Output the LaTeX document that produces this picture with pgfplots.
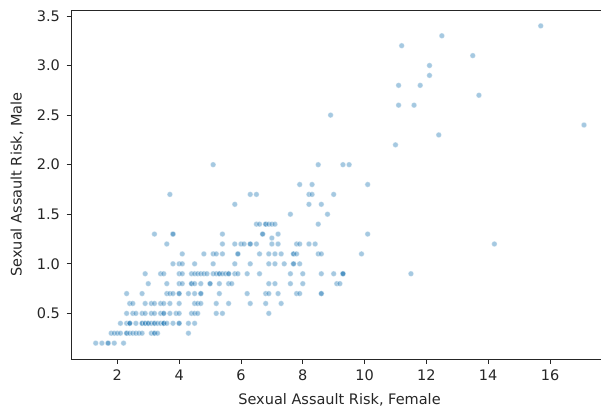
\documentclass[border=0pt]{standalone}
\usepackage{fontspec}
\setmainfont{DejaVu Sans}
\usepackage{pgfplots}
\pgfplotsset{compat=1.18}
\definecolor{mplblue}{HTML}{1F77B4}
\definecolor{spine}{HTML}{262626}

\begin{document}
\begin{tikzpicture}
\begin{axis}[
  at={(0,0)}, anchor=south west,
  width=530pt, height=349pt, scale only axis,
  font=\fontsize{14.5}{17}\selectfont,
  xmin=0.5, xmax=17.65, ymin=0.04, ymax=3.56,
  axis x line*=bottom, axis y line*=left,
  axis line style={draw=spine, line width=0.8pt},
  tick style={draw=spine, line width=0.8pt},
  tick align=outside, major tick length=4.5pt,
  xtick={2,4,6,8,10,12,14,16},
  ytick={0.5,1.0,1.5,2.0,2.5,3.0,3.5},
  /pgf/number format/assume math mode=true,
  yticklabel style={xshift=-3pt, /pgf/number format/fixed, /pgf/number format/fixed zerofill, /pgf/number format/precision=1},
  tick label style={text=spine},
  xticklabel style={yshift=-3pt},
  xlabel={Sexual Assault Risk, Female},
  ylabel={Sexual Assault Risk, Male},
  label style={font=\fontsize{15.8}{18}\selectfont},
  every axis x label/.style={at={(rel axis cs:0.5066,0)}, anchor=base, yshift=-45pt, text=spine},
  every axis y label/.style={at={(rel axis cs:0,0.5)}, xshift=-54pt, rotate=90, anchor=center, text=spine},
]
\addplot[only marks, mark=*, mark size=2.8pt,
  mark options={fill=mplblue, draw=white, line width=0.7pt, opacity=0.4}]
  coordinates {
  % y = 0.2
  (1.3,0.2) (1.5,0.2) (1.7,0.2) (1.7,0.2) (1.9,0.2) (2.2,0.2)
  % y = 0.3
  (1.8,0.3) (1.9,0.3) (2.0,0.3) (2.1,0.3) (2.3,0.3) (2.3,0.3) (2.4,0.3) (2.5,0.3) (2.6,0.3) (2.7,0.3)
  (2.8,0.3) (3.1,0.3) (3.2,0.3) (3.2,0.3) (3.3,0.3) (4.3,0.3)
  % y = 0.4
  (2.1,0.4) (2.3,0.4) (2.4,0.4) (2.4,0.4) (2.4,0.4) (2.6,0.4) (2.8,0.4) (2.8,0.4) (2.9,0.4) (2.9,0.4)
  (3.0,0.4) (3.0,0.4) (3.1,0.4) (3.2,0.4) (3.2,0.4) (3.3,0.4) (3.4,0.4) (3.5,0.4) (3.5,0.4) (3.5,0.4)
  (3.6,0.4) (3.8,0.4) (4.0,0.4) (4.0,0.4) (4.3,0.4) (4.5,0.4)
  % y = 0.5
  (2.3,0.5) (2.5,0.5) (2.6,0.5) (2.8,0.5) (2.9,0.5) (3.1,0.5) (3.2,0.5) (3.4,0.5) (3.5,0.5) (3.5,0.5)
  (3.7,0.5) (3.9,0.5) (4.0,0.5) (4.4,0.5) (4.5,0.5) (4.6,0.5) (5.2,0.5) (5.4,0.5) (6.9,0.5)
  % y = 0.6
  (2.4,0.6) (2.5,0.6) (2.9,0.6) (3.1,0.6) (3.2,0.6) (3.4,0.6) (3.5,0.6) (3.7,0.6) (4.0,0.6) (4.5,0.6)
  (4.6,0.6) (4.7,0.6) (5.2,0.6) (5.6,0.6) (6.3,0.6) (6.8,0.6) (7.3,0.6)
  % y = 0.7
  (2.3,0.7) (2.8,0.7) (3.6,0.7) (3.7,0.7) (3.8,0.7) (4.0,0.7) (4.0,0.7) (4.3,0.7) (4.5,0.7) (4.7,0.7)
  (4.7,0.7) (5.3,0.7) (6.2,0.7) (6.8,0.7) (6.9,0.7) (7.2,0.7) (7.8,0.7) (7.9,0.7) (8.6,0.7) (8.6,0.7)
  % y = 0.8
  (3.0,0.8) (3.6,0.8) (4.0,0.8) (4.1,0.8) (4.4,0.8) (4.4,0.8) (4.5,0.8) (4.7,0.8) (5.0,0.8) (5.0,0.8)
  (5.3,0.8) (5.6,0.8) (5.7,0.8) (6.9,0.8) (7.1,0.8) (7.6,0.8) (8.0,0.8) (9.1,0.8) (9.2,0.8)
  % y = 0.9
  (2.9,0.9) (3.4,0.9) (3.5,0.9) (4.0,0.9) (4.1,0.9) (4.4,0.9) (4.5,0.9) (4.6,0.9) (4.7,0.9) (4.8,0.9)
  (4.9,0.9) (5.1,0.9) (5.2,0.9) (5.3,0.9) (5.3,0.9) (5.4,0.9) (5.5,0.9) (5.6,0.9) (5.6,0.9) (5.8,0.9)
  (5.9,0.9) (6.2,0.9) (6.6,0.9) (7.6,0.9) (8.0,0.9) (8.6,0.9) (9.0,0.9) (9.3,0.9) (9.3,0.9) (9.3,0.9)
  (11.5,0.9)
  % y = 1.0
  (3.8,1.0) (4.0,1.0) (4.1,1.0) (4.5,1.0) (5.1,1.0) (5.8,1.0) (6.3,1.0) (6.9,1.0) (7.1,1.0) (7.4,1.0)
  (7.7,1.0) (7.7,1.0) (7.9,1.0)
  % y = 1.1
  (4.1,1.1) (4.8,1.1) (5.1,1.1) (5.2,1.1) (5.4,1.1) (5.9,1.1) (5.9,1.1) (6.6,1.1) (6.9,1.1) (7.1,1.1)
  (7.3,1.1) (7.7,1.1) (7.7,1.1) (7.8,1.1) (8.5,1.1) (8.6,1.1) (9.9,1.1)
  % y = 1.2
  (3.6,1.2) (5.4,1.2) (5.8,1.2) (6.0,1.2) (6.1,1.2) (6.3,1.2) (6.3,1.2) (6.5,1.2) (7.0,1.2) (7.2,1.2)
  (7.8,1.2) (7.9,1.2) (8.2,1.2) (8.4,1.2) (14.2,1.2) (7.0,1.26)
  % y = 1.3
  (3.2,1.3) (3.8,1.3) (3.8,1.3) (5.4,1.3) (6.7,1.3) (6.7,1.3) (7.2,1.3) (10.1,1.3)
  % y = 1.4
  (6.5,1.4) (6.6,1.4) (6.8,1.4) (6.8,1.4) (6.9,1.4) (7.0,1.4) (7.1,1.4) (8.5,1.4)
  % y = 1.5 .. 2.0
  (7.6,1.5) (8.8,1.5)
  (5.8,1.6) (8.2,1.6) (8.6,1.6)
  (3.7,1.7) (6.3,1.7) (6.5,1.7) (8.2,1.7) (8.3,1.7) (9.0,1.7)
  (7.9,1.8) (8.3,1.8) (10.1,1.8)
  (5.1,2.0) (8.5,2.0) (9.3,2.0) (9.5,2.0)
  % upper tail
  (11.0,2.2) (12.4,2.3) (17.1,2.4) (8.9,2.5) (11.1,2.6) (11.6,2.6) (13.7,2.7)
  (11.1,2.8) (11.8,2.8) (12.1,2.9) (12.1,3.0) (13.5,3.1) (11.2,3.2) (12.5,3.3) (15.7,3.4)
  };
\draw[spine, line width=0.8pt] (rel axis cs:0,1) -- (rel axis cs:1,1);
\end{axis}
\pgfresetboundingbox
\path[use as bounding box] (-71pt,-48pt) rectangle (530pt,359pt);
\end{tikzpicture}
\end{document}
